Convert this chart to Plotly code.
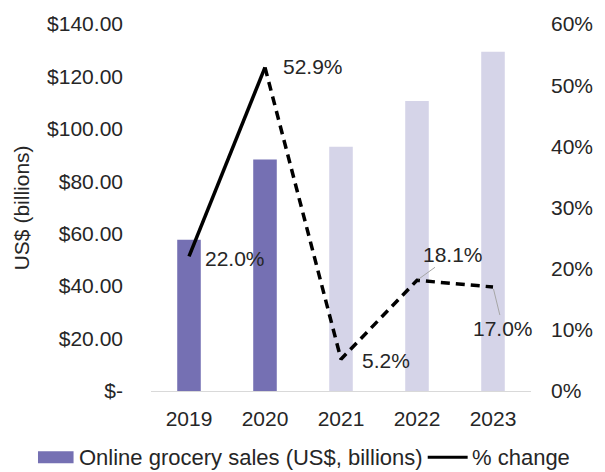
import plotly.graph_objects as go

# Online grocery sales, actual (2019-2020) and forecast (2021-2023)
years = ["2019", "2020", "2021", "2022", "2023"]
sales = [57.7, 88.3, 93.2, 110.6, 129.4]          # US$ billions
pct_change = [22.0, 52.9, 5.2, 18.1, 17.0]        # % change year over year
pct_labels = ["22.0%", "52.9%", "5.2%", "18.1%", "17.0%"]
is_forecast = [False, False, True, True, True]

left_ticks = [0, 20, 40, 60, 80, 100, 120, 140]
left_tick_text = ["$-", "$20.00", "$40.00", "$60.00", "$80.00", "$100.00", "$120.00", "$140.00"]
right_ticks = [0, 10, 20, 30, 40, 50, 60]
right_tick_text = ["0%", "10%", "20%", "30%", "40%", "50%", "60%"]

DARK = "#7570b3"
LIGHT = "#d5d4e8"
FONT = "Liberation Sans, Arial, sans-serif"
TXT = "#262626"
FS = 21

fig = go.Figure()

fig.add_trace(go.Bar(
    x=years, y=sales, width=0.31,
    marker=dict(color=[LIGHT if f else DARK for f in is_forecast], line_width=0),
    name="Online grocery sales (US$, billions)", yaxis="y", showlegend=False,
))

# actual growth: solid; forecast growth: dashed
n_actual = is_forecast.index(True)
fig.add_trace(go.Scatter(
    x=years[:n_actual], y=pct_change[:n_actual], mode="lines",
    line=dict(color="black", width=3.5), name="% change", yaxis="y2", showlegend=False,
))
fig.add_trace(go.Scatter(
    x=years[n_actual - 1:], y=pct_change[n_actual - 1:], mode="lines",
    line=dict(color="black", width=3.5, dash="9px,6px"), showlegend=False, yaxis="y2",
))

# value labels for the growth line (x given as category index)
offsets = [
    dict(showarrow=False, xanchor="left", xshift=14, yshift=-2),
    dict(showarrow=False, xanchor="left", xshift=16, yshift=1),
    dict(showarrow=False, xanchor="left", xshift=19, yshift=-1),
    dict(showarrow=True, ax=36, ay=-26),
    dict(showarrow=True, ax=10, ay=41),
]
for i, (v, lab, off) in enumerate(zip(pct_change, pct_labels, offsets)):
    ann = dict(x=i, y=v, xref="x", yref="y2", text=lab,
               font=dict(family=FONT, size=FS, color=TXT))
    if off.get("showarrow"):
        ann.update(arrowhead=0, arrowwidth=1, arrowcolor="#a6a6a6", standoff=2)
    ann.update(off)
    fig.add_annotation(**ann)

fig.add_annotation(
    text="US$ (billions)", xref="paper", yref="paper", x=-0.34, y=0.5,
    xanchor="center", yanchor="middle",
    textangle=-90, showarrow=False, font=dict(family=FONT, size=FS, color=TXT),
)

# legend, drawn below the plot
fig.add_shape(type="rect", xref="paper", yref="paper",
              x0=-0.2974, x1=-0.2038, y0=-0.1968, y1=-0.1644,
              fillcolor=DARK, line_width=0)
fig.add_annotation(text="Online grocery sales (US$, billions)", xref="paper", yref="paper",
                   x=-0.1949, y=-0.1806, xanchor="left", yanchor="middle", showarrow=False,
                   font=dict(family=FONT, size=22, color=TXT))
fig.add_shape(type="line", xref="paper", yref="paper",
              x0=0.7282, x1=0.8333, y0=-0.1806, y1=-0.1806,
              line=dict(color="black", width=3))
fig.add_annotation(text="% change", xref="paper", yref="paper",
                   x=0.8385, y=-0.1806, xanchor="left", yanchor="middle", showarrow=False,
                   font=dict(family=FONT, size=22, color=TXT))

fig.update_layout(
    width=605, height=472,
    margin=dict(l=151, r=64, t=20, b=81),
    paper_bgcolor="white", plot_bgcolor="white",
    font=dict(family=FONT, size=FS, color=TXT),
    bargap=0.69,
    showlegend=False,
    xaxis=dict(type="category", range=[-0.5, 4.5], showline=True, linecolor="#d9d9d9",
               linewidth=1, showgrid=False, ticks="", ticklabelstandoff=9,
               tickfont=dict(size=FS, color=TXT)),
    yaxis=dict(range=[0, 140], tickvals=left_ticks, ticktext=left_tick_text,
               showgrid=False, zeroline=False, showline=False, ticks="",
               ticklabelstandoff=27, tickfont=dict(size=FS, color=TXT)),
    yaxis2=dict(range=[0, 60], tickvals=right_ticks, ticktext=right_tick_text,
                overlaying="y", side="right", showgrid=False, zeroline=False,
                showline=False, ticks="", ticklabelstandoff=19,
                tickfont=dict(size=FS, color=TXT)),
)

fig.write_html("out.html")
